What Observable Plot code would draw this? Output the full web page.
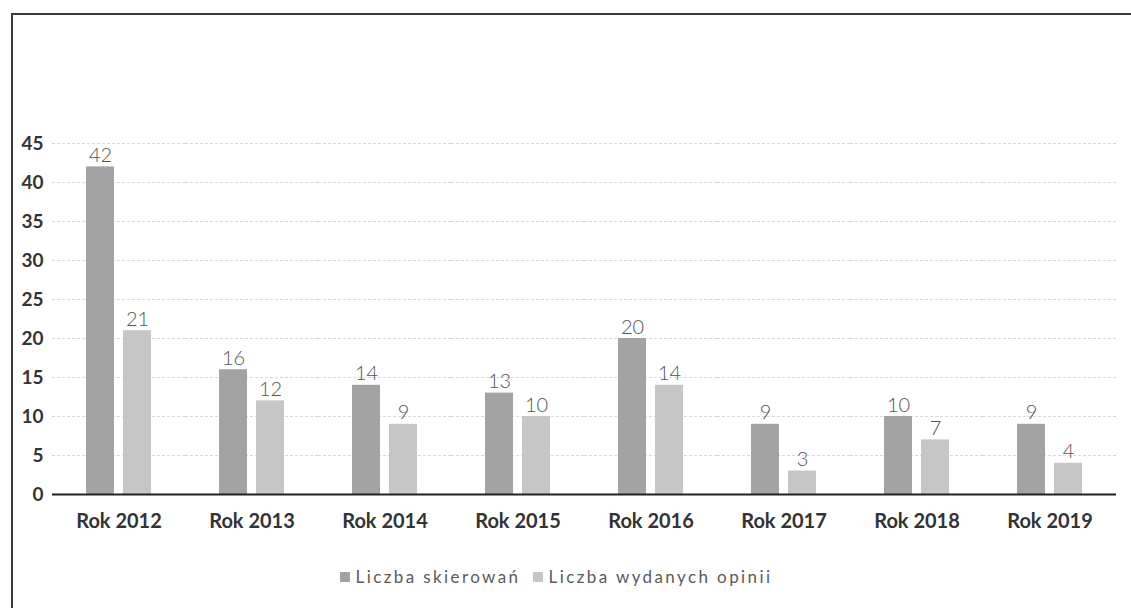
<!DOCTYPE html>
<html><head><meta charset="utf-8">
<script src="https://cdn.jsdelivr.net/npm/d3@7"></script>
<script src="https://cdn.jsdelivr.net/npm/@observablehq/plot@0.6"></script>
<style>
body{margin:0;background:#fff;font-family:Lato,"Open Sans",sans-serif;}
#wrap{position:relative;width:1131px;height:608px;overflow:hidden;background:#fff;}
#frame{position:absolute;left:11px;top:13px;width:1140px;height:620px;border-left:2px solid #3a3a3a;border-top:2px solid #3a3a3a;pointer-events:none;}
#chart{position:absolute;left:0;top:0;}
#legend{position:absolute;left:0;width:1112px;top:566px;text-align:center;font-size:17px;color:#5a5a5a;letter-spacing:2.4px;}
#legend .sw{display:inline-block;width:10px;height:10px;margin-right:6px;vertical-align:1px;}
#legend .it{margin:0 6px;}
</style></head>
<body>
<div id="wrap">
  <div id="chart"></div>
  <div id="frame"></div>
  <div id="legend"></div>
</div>
<script>
const years = ["Rok 2012","Rok 2013","Rok 2014","Rok 2015","Rok 2016","Rok 2017","Rok 2018","Rok 2019"];
const seriesNames = ["Liczba skierowań","Liczba wydanych opinii"];
const skierowania = [42,16,14,13,20,9,10,9];
const opinie = [21,12,9,10,14,3,7,4];
const seriesColors = ["#a3a3a3","#c6c6c6"];
const yTicks = [0,5,10,15,20,25,30,35,40,45];

const data = [];
years.forEach((y,i) => {
  data.push({year:y, series:seriesNames[0], value:skierowania[i]});
  data.push({year:y, series:seriesNames[1], value:opinie[i]});
});

const plot = Plot.plot({
  width:1131,
  height:545,
  marginLeft:50,
  marginRight:14,
  marginTop:143,
  marginBottom:51,
  style:{fontFamily:"Lato, 'Open Sans', sans-serif", background:"transparent"},
  fx:{domain:years, padding:0, label:null, axis:null},
  x:{domain:seriesNames, paddingInner:0.237, paddingOuter:0.874, axis:null},
  y:{domain:[0,45], label:null, axis:null},
  color:{domain:seriesNames, range:seriesColors},
  marks:[
    Plot.ruleY(yTicks.filter(d=>d>0), {stroke:"#d9d9d9", strokeWidth:1, strokeDasharray:"3,2"}),
    Plot.barY(data, {fx:"year", x:"series", y:"value", fill:"series"}),
    Plot.text(data, {fx:"year", x:"series", y:"value", text:d=>String(d.value), dy:-5, lineAnchor:"bottom", fontSize:20, fill:"#555", fontWeight:300}),
    Plot.ruleY([0], {stroke:"#222", strokeWidth:2}),
    Plot.axisY({ticks:yTicks, tickSize:0, tickPadding:9, fontSize:19, fontWeight:"bold", fill:"#333", label:null}),
    Plot.axisFx({anchor:"bottom", tickSize:0, tickPadding:19, fontSize:20, fontWeight:"bold", fill:"#333", label:null})
  ]
});
document.getElementById("chart").appendChild(plot);

const leg = document.getElementById("legend");
seriesNames.forEach((n,i) => {
  const s = document.createElement("span");
  s.className = "it";
  s.innerHTML = `<span class="sw" style="background:${seriesColors[i]}"></span>${n}`;
  leg.appendChild(s);
});
</script>
</body></html>
